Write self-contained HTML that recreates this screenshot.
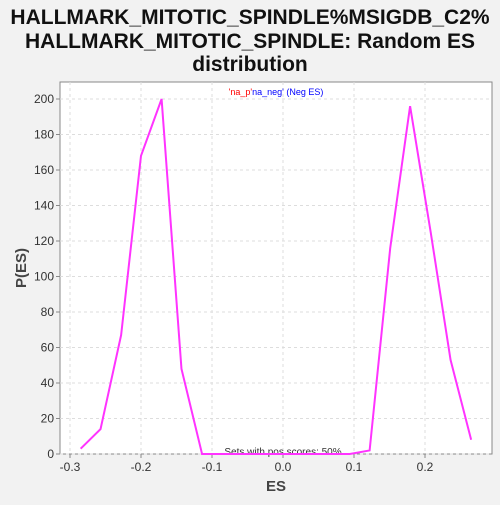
<!DOCTYPE html>
<html><head><meta charset="utf-8"><style>
body{margin:0;background:#f2f2f2;width:500px;height:500px;overflow:hidden;font-family:"Liberation Sans",sans-serif}
</style></head><body>
<svg width="500" height="500">
<rect width="500" height="500" fill="#f2f2f2"/>
<g font-weight="bold" font-size="21" fill="#111" text-anchor="middle">
<text x="250" y="24">HALLMARK_MITOTIC_SPINDLE%MSIGDB_C2%</text>
<text x="250" y="48">HALLMARK_MITOTIC_SPINDLE: Random ES</text>
<text x="250" y="71">distribution</text>
</g>
<rect x="60" y="82" width="432" height="372" fill="#fff" stroke="#888"/>
<g id="grid"></g>
<g id="axes"></g>
<text x="276" y="95" font-size="9" text-anchor="middle"><tspan fill="#f00">'na_p'</tspan><tspan fill="#00f">na_neg' (Neg ES)</tspan></text>
<text x="283" y="455" font-size="10" fill="#333" text-anchor="middle">Sets with pos scores: 50%</text>
<polyline id="line" fill="none" stroke="#ff33ff" stroke-width="2"/>
<text x="276" y="491" font-size="15" font-weight="bold" fill="#444" text-anchor="middle">ES</text>
<text transform="translate(26,268) rotate(-90)" font-size="15" font-weight="bold" fill="#444" text-anchor="middle">P(ES)</text>
</svg>
<script>
const esValues=[-0.285,-0.257,-0.228,-0.2,-0.171,-0.143,-0.114,0.094,0.122,0.151,0.179,0.208,0.236,0.265];
const pValues=[3,14,67,168,200,48,0,0,2,116,196,125,53,8];
const xTicks=[-0.3,-0.2,-0.1,0.0,0.1,0.2];
const yTicks=[0,20,40,60,80,100,120,140,160,180,200];
const X=v=>283+v*710, Y=v=>454-v*1.775;
const ns="http://www.w3.org/2000/svg";
const grid=document.getElementById('grid'),axes=document.getElementById('axes');
function mk(tag,attrs,parent){const e=document.createElementNS(ns,tag);for(const k in attrs)e.setAttribute(k,attrs[k]);parent.appendChild(e);return e;}
xTicks.forEach(t=>{
 const g=mk('line',{x1:X(t),x2:X(t),y1:82,y2:454,stroke:'#ddd','stroke-dasharray':'3,3'},grid);
 
 
 const tk=mk('line',{x1:X(t),x2:X(t),y1:454,y2:458,stroke:'#888'},axes);
 
 
 const l=mk('text',{x:X(t),y:471,'font-size':12,fill:'#333','text-anchor':'middle'},axes);
 l.textContent=t.toFixed(1);
 
 
});
yTicks.forEach(t=>{
 const g=mk('line',{x1:60,x2:492,y1:Y(t),y2:Y(t),stroke:'#ddd','stroke-dasharray':'3,3'},grid);
 
 
 const tk=mk('line',{x1:56,x2:60,y1:Y(t),y2:Y(t),stroke:'#888'},axes);
 
 
 const l=mk('text',{x:54,y:Y(t)+4,'font-size':12,fill:'#333','text-anchor':'end'},axes);
 l.textContent=t;
 
 
});
document.getElementById('line').setAttribute('points',esValues.map((v,i)=>X(v)+','+Y(pValues[i])).join(' '));
</script>
</body></html>
